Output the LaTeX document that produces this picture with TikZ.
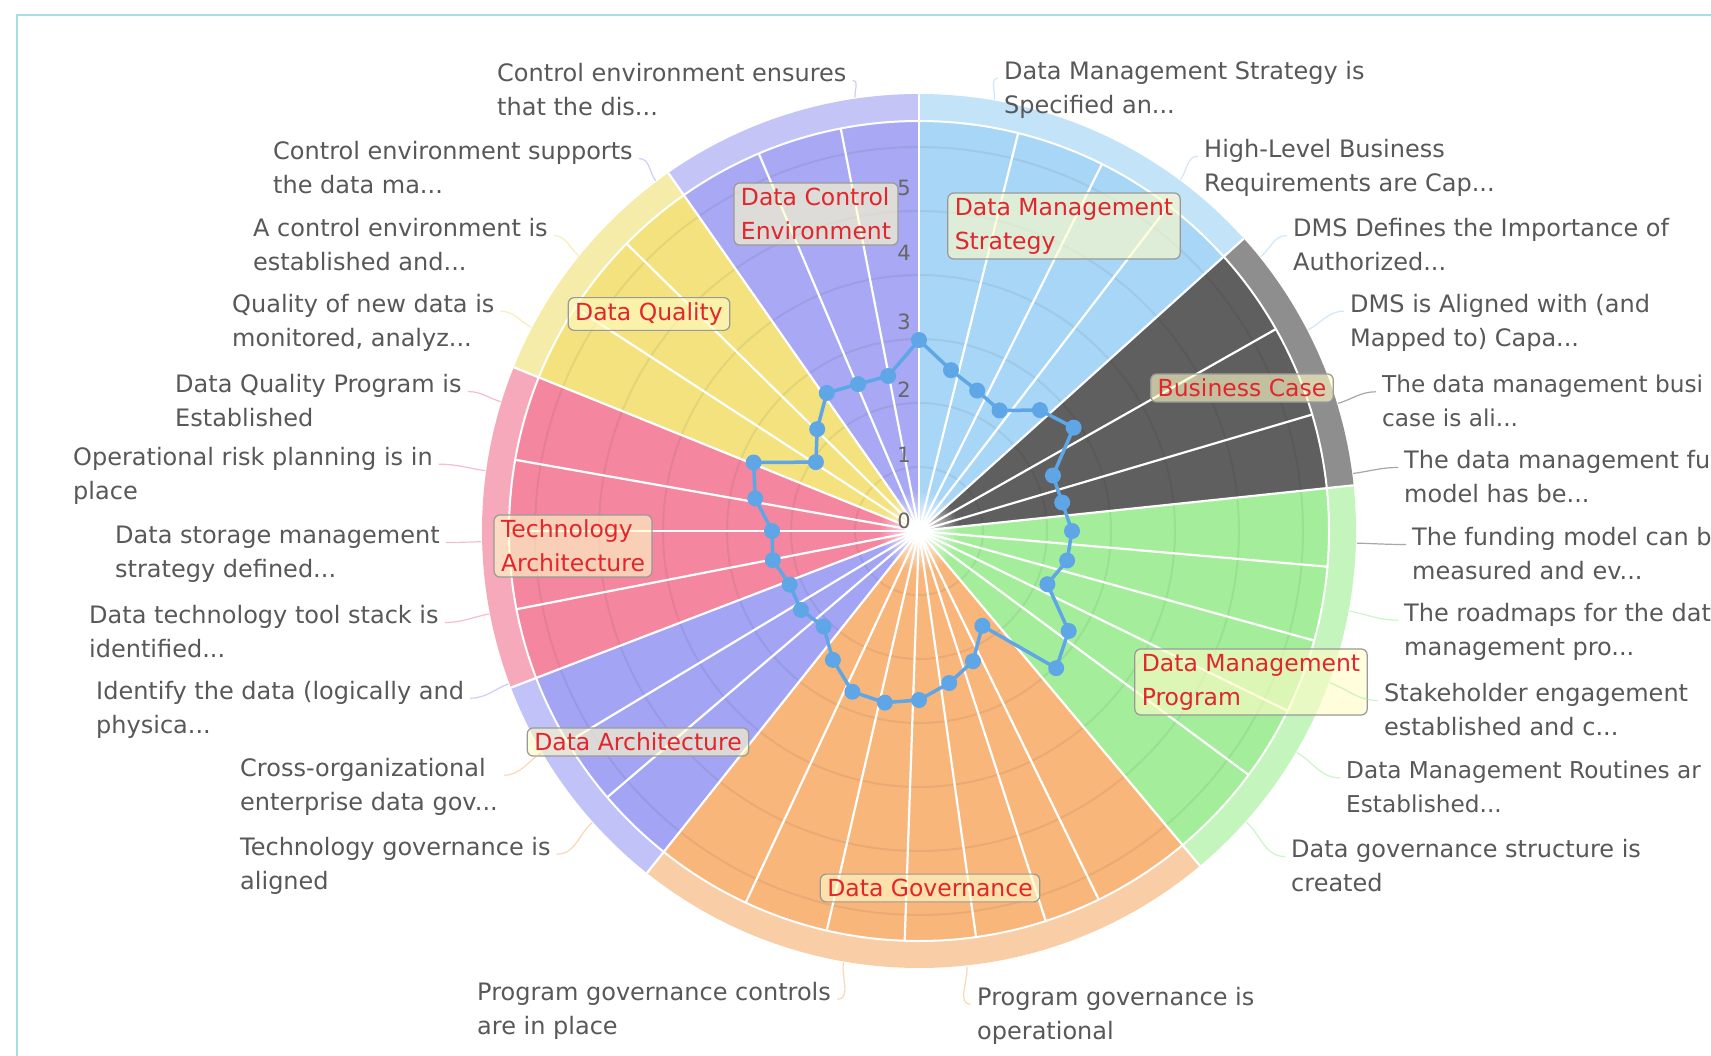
\documentclass[tikz,border=0pt]{standalone}
\usepackage{fontspec}
\setmainfont{DejaVu Sans}
\usetikzlibrary{calc,fadings}
\definecolor{dmsI}{HTML}{A8D6F6}
\definecolor{dmsO}{HTML}{C3E3F9}
\definecolor{bcI}{HTML}{5F5F5F}
\definecolor{bcO}{HTML}{8E8E8E}
\definecolor{dmpI}{HTML}{A4EE9B}
\definecolor{dmpO}{HTML}{C4F5BD}
\definecolor{dgI}{HTML}{F8B67B}
\definecolor{dgO}{HTML}{F9CEA6}
\definecolor{daI}{HTML}{A3A4F4}
\definecolor{daO}{HTML}{C1C2F7}
\definecolor{taI}{HTML}{F4879F}
\definecolor{taO}{HTML}{F6A9BB}
\definecolor{dqI}{HTML}{F3E27D}
\definecolor{dqO}{HTML}{F5ECA9}
\definecolor{dceI}{HTML}{A8A8F4}
\definecolor{dceO}{HTML}{C4C4F7}
\definecolor{lineblue}{HTML}{5FA6E6}
\definecolor{labelgray}{HTML}{585858}
\definecolor{boxred}{HTML}{E2262C}
\definecolor{framecol}{HTML}{A9DDE3}
\tikzfading[name=centerglow, inner color=transparent!0, outer color=transparent!100]
\newcommand\conR[2]{\draw[connector,#2] let \p1=($(#1.north west)+(-6,-17)$), \p2=($(\p1)-(C)$), \n1={atan2(\y2,\x2)} in (\p1) to[out=180,in=\n1] ($(C)!438pt!(\p1)$);}
\newcommand\conL[2]{\draw[connector,#2] let \p1=($(#1.north east)+(6,-17)$), \p2=($(\p1)-(C)$), \n1={atan2(\y2,\x2)} in (\p1) to[out=0,in=\n1] ($(C)!438pt!(\p1)$);}
\begin{document}
\begin{tikzpicture}[x=1pt,y=1pt,
  outerlabel/.style={anchor=west, align=left, inner sep=0pt, text=labelgray, font=\fontsize{24}{34}\selectfont},
  grouplabel/.style={draw=black!40, line width=1.2pt, rounded corners=6pt, fill=yellow!22!white, fill opacity=0.62, text opacity=1, text=boxred, align=left, inner xsep=7pt, inner ysep=5pt, font=\fontsize{23.5}{34}\selectfont},
  axislabel/.style={text=black!60, font=\fontsize{21}{21}\selectfont, inner sep=0pt},
  whiteline/.style={white, line width=2.2pt},
  gridring/.style={black, opacity=0.06, line width=2pt},
  dataline/.style={lineblue, line width=3.5pt, line join=round},
  marker/.style={fill=lineblue},
  connector/.style={line width=1.2pt, opacity=0.55}
]
\useasboundingbox (0,0) rectangle (1711,-1056);
\fill[white] (0,0) rectangle (1711,-1056);
\draw[framecol, line width=1.5pt] (17,-1056) -- (17,-15) -- (1711,-15);
\coordinate (C) at (919,-531);
\begin{scope}[shift={(C)}]
\foreach \a/\b/\ci/\co in {0/48/dmsI/dmsO, 48/84/bcI/bcO, 84/140/dmpI/dmpO, 140/218.5/dgI/dgO, 218.5/249/daI/daO, 249/292/taI/taO, 292/325/dqI/dqO, 325/360/dceI/dceO}{
  \fill[\co] (0,0) -- ({90-\a}:437) arc[start angle={90-\a}, end angle={90-\b}, radius=437] -- cycle;
  \fill[\ci] (0,0) -- ({90-\a}:410) arc[start angle={90-\a}, end angle={90-\b}, radius=410] -- cycle;
}
\foreach \k in {1,...,6} \draw[gridring] (0,0) circle[radius=\k*64];
\draw[white, line width=2pt] (0,0) circle[radius=410];
\foreach \t in {14,26.5,37.5,60.5,73.5,95,105.5,116,126.5,154,162,172,182,193,205,229.5,239,259,270,280,303,314.5,337,349}
  \draw[whiteline] (0,0) -- ({90-\t}:410);
\foreach \t in {0,48,84,140,218.5,249,292,325}
  \draw[whiteline] (0,0) -- ({90-\t}:437);
\fill[white, path fading=centerglow] (0,0) circle[radius=40];
\foreach \k/\r in {0/191,1/164,2/152,3/145,4/171,5/186,6/145,7/146,8/153,9/151,10/139,11/180,12/194,13/114,14/141,15/155,16/169,17/175,18/174,19/155,20/135,21/142,22/140,23/149,24/147,25/167,26/179,27/124,28/144,29/166,30/159,31/158}
  \coordinate (P\k) at ({90-\k*11.25}:\r);
\end{scope}
\draw[dataline] (P0) \foreach \k in {1,...,31}{ -- (P\k)} -- cycle;
\foreach \k in {0,...,31} \fill[marker] (P\k) circle[radius=8];
% radial axis labels
\node[axislabel] (ax0) at (904,-521) {0};
\node[axislabel] (ax1) at (904,-455) {1};
\node[axislabel] (ax2) at (904,-390) {2};
\node[axislabel] (ax3) at (904,-322) {3};
\node[axislabel] (ax4) at (904,-253) {4};
\node[axislabel] (ax5) at (904,-188) {5};
% group labels
\node[grouplabel] (gDCE) at (816,-214) {Data Control\\Environment};
\node[grouplabel] (gDMS) at (1064,-226) {Data Management\\Strategy};
\node[grouplabel] (gDQ) at (649,-314) {Data Quality};
\node[grouplabel] (gBC) at (1242,-388) {Business Case};
\node[grouplabel] (gTA) at (573,-546) {Technology\\Architecture};
\node[grouplabel] (gDMP) at (1251,-682) {Data Management\\Program};
\node[grouplabel] (gDA) at (638,-742) {Data Architecture};
\node[grouplabel] (gDG) at (930,-888) {Data Governance};
% outer category labels
\node[outerlabel] (L1) at (1004,-90) {Data Management Strategy is\\Specified an...};
\node[outerlabel] (L2) at (1204,-168) {High-Level Business\\Requirements are Cap...};
\node[outerlabel] (L3) at (1293,-245) {DMS Defines the Importance of\\Authorized...};
\node[outerlabel] (L4) at (1350,-323) {DMS is Aligned with (and\\Mapped to) Capa...};
\node[outerlabel, font=\fontsize{23.2}{34}\selectfont] (L5) at (1382,-401) {The data management busi\\case is ali...};
\node[outerlabel] (L6) at (1404,-477) {The data management fu\\model has be...};
\node[outerlabel] (L7) at (1412,-554) {The funding model can b\\measured and ev...};
\node[outerlabel] (L8) at (1404,-632) {The roadmaps for the dat\\management pro...};
\node[outerlabel] (L9) at (1384,-710) {Stakeholder engagement\\established and c...};
\node[outerlabel, font=\fontsize{23.2}{34}\selectfont] (L10) at (1346,-787) {Data Management Routines ar\\Established...};
\node[outerlabel] (L11) at (1291,-866) {Data governance structure is\\created};
\node[outerlabel] (L12) at (977,-1016) {Program governance is\\operational};
\node[outerlabel] (L13) at (477,-1011) {Program governance controls\\are in place};
\node[outerlabel] (L14) at (240,-866) {Technology governance is\\aligned};
\node[outerlabel] (L15) at (240,-787) {Cross-organizational\\enterprise data gov...};
\node[outerlabel] (L16) at (96,-710) {Identify the data (logically and\\physica...};
\node[outerlabel] (L17) at (89,-632) {Data technology tool stack is\\identified...};
\node[outerlabel] (L18) at (115,-554) {Data storage management\\strategy defined...};
\node[outerlabel] (L19) at (73,-476) {Operational risk planning is in\\place};
\node[outerlabel] (L20) at (175,-401) {Data Quality Program is\\Established};
\node[outerlabel] (L21) at (232,-323) {Quality of new data is\\monitored, analyz...};
\node[outerlabel] (L22) at (253,-245) {A control environment is\\established and...};
\node[outerlabel] (L23) at (273,-168) {Control environment supports\\the data ma...};
\node[outerlabel] (L24) at (497,-90) {Control environment ensures\\that the dis...};
% connectors
\conR{L1}{dmsI}\conR{L2}{dmsI}\conR{L3}{dmsI}\conR{L4}{dmsI}
\conR{L5}{bcI}\conR{L6}{bcI}\conR{L7}{bcI}
\conR{L8}{dmpI}\conR{L9}{dmpI}\conR{L10}{dmpI}\conR{L11}{dmpI}
\conR{L12}{dgI}
\conL{L13}{dgI}\conL{L14}{dgI}\conL{L15}{dgI}\conL{L16}{daI}
\conL{L17}{taI}\conL{L18}{taI}\conL{L19}{taI}\conL{L20}{taI}
\conL{L21}{dqI}\conL{L22}{dqI}\conL{L23}{dceI}\conL{L24}{dceI}
\end{tikzpicture}
\end{document}
